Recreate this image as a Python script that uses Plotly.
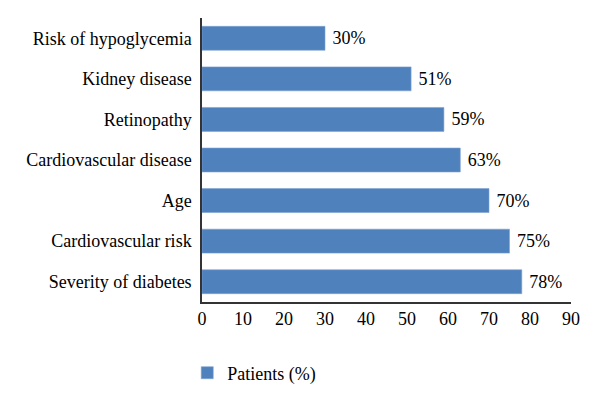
import plotly.graph_objects as go

categories = ["Risk of hypoglycemia", "Kidney disease", "Retinopathy",
              "Cardiovascular disease", "Age", "Cardiovascular risk",
              "Severity of diabetes"]
patients_pct = [30, 51, 59, 63, 70, 75, 78]
x_ticks = [0, 10, 20, 30, 40, 50, 60, 70, 80, 90]
series_name = "Patients (%)"

FONT = "Liberation Serif"
FS = 18

fig = go.Figure(go.Bar(
    x=patients_pct,
    y=categories,
    orientation="h",
    name=series_name,
    marker=dict(color="#4F81BD", line=dict(color="#7FA3D0", width=0.6)),
    text=[f"\u00a0{v}%" for v in patients_pct],
    textposition="outside",
    textfont=dict(family=FONT, size=FS, color="#000000"),
    cliponaxis=False,
    showlegend=True,
))

fig.update_layout(
    width=592, height=398,
    margin=dict(l=194, r=29, t=10, b=104),
    paper_bgcolor="white", plot_bgcolor="white",
    font=dict(family=FONT, size=FS, color="#000000"),
    bargap=0.41,
    showlegend=True,
    legend=dict(orientation="h", x=-0.04, xanchor="left",
                y=-0.25, yanchor="middle",
                font=dict(family=FONT, size=FS, color="#000000"),
                bgcolor="rgba(0,0,0,0)"),
    xaxis=dict(range=[0, 90], tickvals=x_ticks, showgrid=False,
               zeroline=False, showline=True, linecolor="#333333",
               linewidth=1.5, ticks="", ticklabelstandoff=0),
    yaxis=dict(autorange="reversed", showgrid=False, zeroline=False,
               showline=True, linecolor="#333333", linewidth=1.5,
               ticks="", ticklabelstandoff=5),
)

fig.write_html("out.html")
